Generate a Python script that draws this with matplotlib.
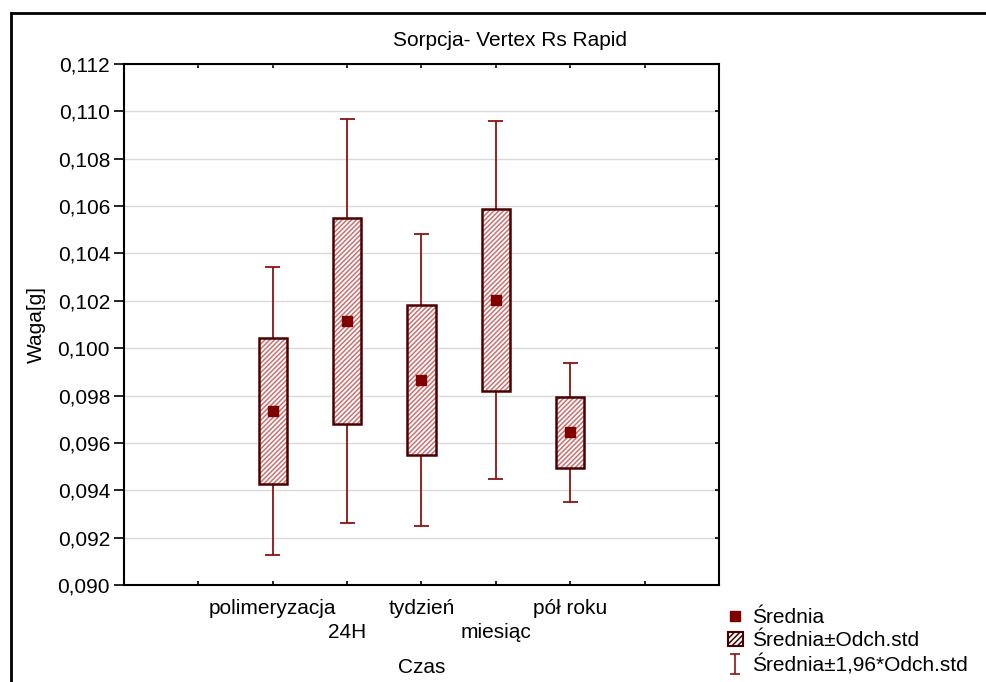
#!/usr/bin/env python3
"""
Sorpcja - Vertex Rs Rapid: mean, +-SD box and +-1.96*SD whiskers.
"""
import matplotlib
matplotlib.use('Agg')
import matplotlib.pyplot as plt
from matplotlib.lines import Line2D
from matplotlib.patches import Patch
from matplotlib.path import Path
from matplotlib.ticker import FuncFormatter, MultipleLocator

# data
categories = ['polimeryzacja', '24H', 'tydzień', 'miesiąc', 'pół roku']
means = [0.09735, 0.10115, 0.09866, 0.10204, 0.09645]
sds = [0.00310, 0.00435, 0.00315, 0.00385, 0.00150]
positions = [2, 3, 4, 5, 6]

box_lo = [m - s for m, s in zip(means, sds)]
box_hi = [m + s for m, s in zip(means, sds)]
wh_lo = [m - 1.96 * s for m, s in zip(means, sds)]
wh_hi = [m + 1.96 * s for m, s in zip(means, sds)]

plt.rcParams['font.family'] = ['Liberation Sans', 'DejaVu Sans']
plt.rcParams['hatch.linewidth'] = 1.1
FS = 15

W, H = 987, 682
fig = plt.figure(figsize=(W / 100, H / 100), dpi=100)
ax = fig.add_axes([124 / W, 1 - 585 / H, 595 / W, 521 / H])

whisk_col = '#8b1414'
edge_col = '#4a0000'
hatch_col = '#cc7070'
mean_col = '#800000'
box_w = 0.38
cap_w = 0.2

# whiskers (mean +- 1.96 SD)
ax.vlines(positions, wh_lo, wh_hi, color=whisk_col, lw=1.3, zorder=2)
for p, lo, hi in zip(positions, wh_lo, wh_hi):
    ax.hlines([lo, hi], p - cap_w / 2, p + cap_w / 2, color=whisk_col, lw=1.3, zorder=2)

# boxes (mean +- SD)
heights = [h - l for h, l in zip(box_hi, box_lo)]
ax.bar(positions, heights, bottom=box_lo, width=box_w, color='white',
       edgecolor=hatch_col, hatch='///////', lw=0, zorder=3)
ax.bar(positions, heights, bottom=box_lo, width=box_w, facecolor='none',
       edgecolor=edge_col, lw=1.8, zorder=4)

# means
ax.plot(positions, means, 's', color=mean_col, ms=7, zorder=5, linestyle='none')

ax.set_xlim(0, 8)
ax.set_ylim(0.090, 0.112)
ax.yaxis.set_major_locator(MultipleLocator(0.002))
ax.yaxis.set_major_formatter(FuncFormatter(lambda v, _: f'{v:.3f}'.replace('.', ',')))
ax.grid(axis='y', color='#d9d9d9', lw=1)
ax.set_axisbelow(True)

xt = [1, 2, 3, 4, 5, 6, 7]
xl = [''] + [c if i % 2 == 0 else '\n' + c for i, c in enumerate(categories)] + ['']
ax.set_xticks(xt)
ax.set_xticklabels(xl)
for t in ax.get_xticklabels():
    t.set_linespacing(1.35)

ax.tick_params(axis='x', direction='in', length=3, width=1.2, top=True,
               labelsize=FS, pad=10)
ax.tick_params(axis='y', which='major', direction='out', length=7, width=1.2,
               labelsize=FS, pad=3)
ax.tick_params(axis='y', right=True)
for tl in ax.yaxis.get_ticklines()[1::2]:
    tl.set_markersize(3)
    tl.set_marker(0)  # tick pointing inward on the right side
for s in ax.spines.values():
    s.set_linewidth(1.5)

ax.set_xlabel('Czas', fontsize=FS)
ax.xaxis.set_label_coords(0.5, -0.140)
ax.set_ylabel('Waga[g]', fontsize=FS)
ax.yaxis.set_label_coords(-0.132, 0.5)

fig.text(510 / W, 1 - 40 / H, 'Sorpcja- Vertex Rs Rapid', ha='center', va='center', fontsize=FS)

# outer frame (only top and left visible)
fig.add_artist(Line2D([11 / W, 11 / W], [0, 1 - 13 / H], transform=fig.transFigure, color='black', lw=2))
fig.add_artist(Line2D([11 / W, 1], [1 - 13 / H, 1 - 13 / H], transform=fig.transFigure, color='black', lw=2))

# legend
ibar = Path([(-0.5, 1), (0.5, 1), (0, 1), (0, -1), (-0.5, -1), (0.5, -1)],
            [Path.MOVETO, Path.LINETO, Path.MOVETO, Path.LINETO, Path.MOVETO, Path.LINETO])
handles = [
    Line2D([], [], marker='s', color=mean_col, linestyle='none', ms=7),
    Patch(facecolor='white', edgecolor=hatch_col, hatch='//////', lw=0),
    Line2D([], [], marker=ibar, linestyle='none', ms=15, markeredgecolor=whisk_col,
           markerfacecolor='none', markeredgewidth=1.2),
]
labels = ['Średnia', 'Średnia±Odch.std', 'Średnia±1,96*Odch.std']
leg = fig.legend(handles, labels, loc='upper left', bbox_to_anchor=(728 / W, 1 - 608 / H),
                 frameon=False, fontsize=FS, handlelength=0.7, handleheight=0.7,
                 handletextpad=0.45, labelspacing=0.2, borderaxespad=0, borderpad=0)
leg.get_patches()[0].set_edgecolor(edge_col)
leg.get_patches()[0].set_linewidth(1.5)

fig.savefig('out.png', dpi=100)
